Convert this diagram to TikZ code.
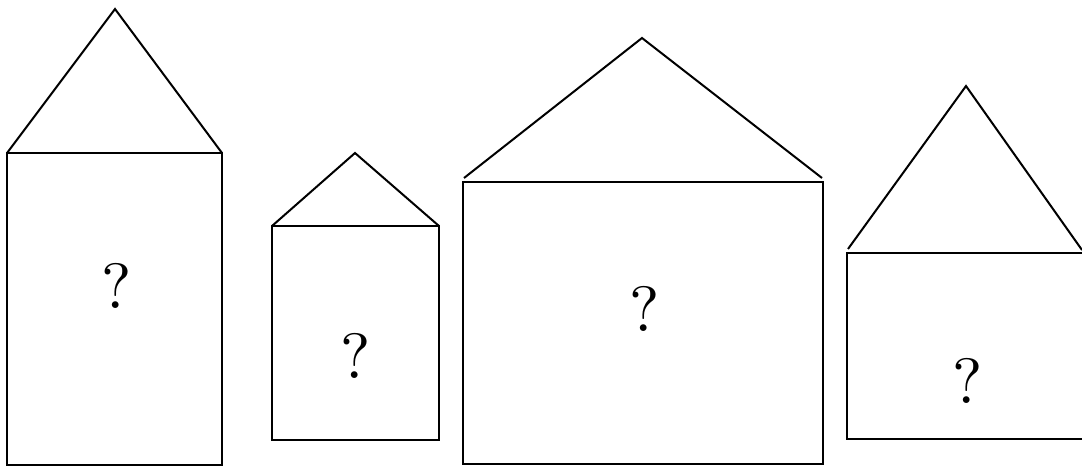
\documentclass[tikz,border=0pt]{standalone}
\usepackage{fontspec}
\newfontfamily\qfont{lmroman10-regular.otf}
\begin{document}
\begin{tikzpicture}[x=1pt,y=-1pt,
  wall/.style={draw=black,line width=2.6pt},
  roof/.style={draw=black,line width=2pt,line join=miter},
  qmark/.style={font=\qfont\fontsize{64}{70}\selectfont,inner sep=0pt}]
\useasboundingbox (0,0) rectangle (1082,466);
\clip (0,0) rectangle (1082,466);
% house 1
\draw[wall] (7,153) rectangle (222,465);
\draw[roof] (7,153) -- (115,9) -- (222,153);
\node[qmark] (q1) at (117,286) {?};
% house 2
\draw[wall] (272,226) rectangle (439,440);
\draw[roof] (272,226) -- (355,153) -- (439,226);
\node[qmark] (q2) at (356,356) {?};
% house 3
\draw[wall] (463,182) rectangle (823,464);
\draw[roof] (464,178) -- (642,38) -- (822,178);
\node[qmark] (q3) at (645,309) {?};
% house 4
\draw[wall] (847,253) rectangle (1090,439);
\draw[roof] (848,249) -- (966,86) -- (1082,250);
\node[qmark] (q4) at (968,381) {?};
\end{tikzpicture}
\end{document}
